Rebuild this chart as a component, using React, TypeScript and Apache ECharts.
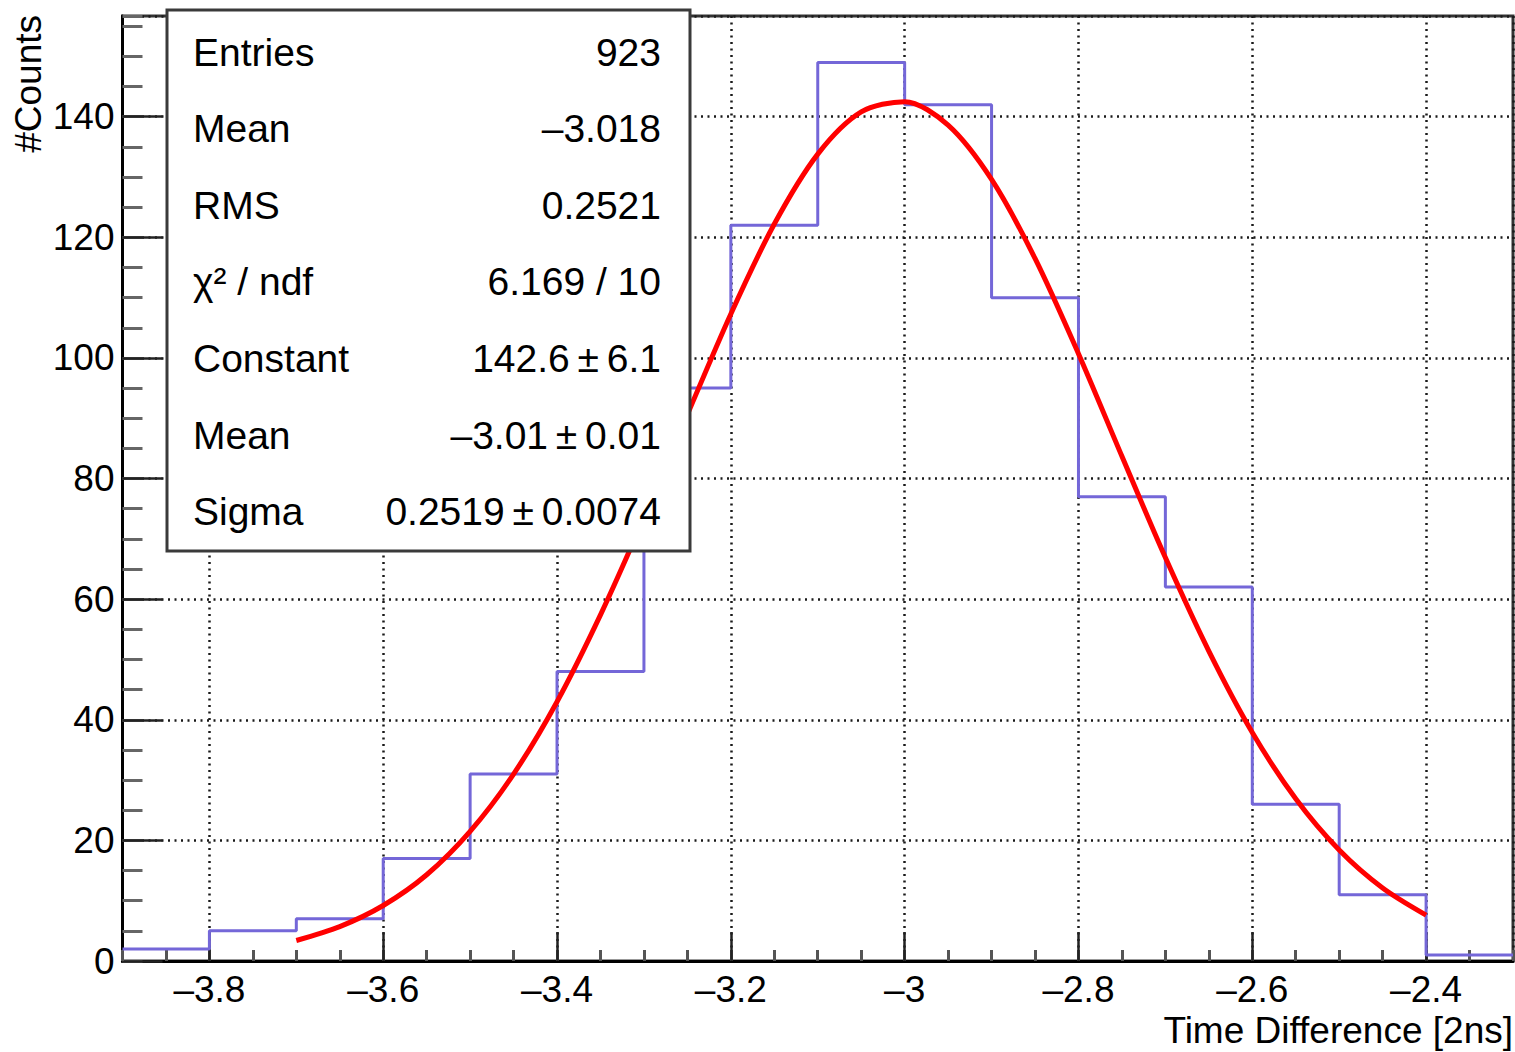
import React, { useEffect, useRef } from "react";
import * as echarts from "echarts";

// Histogram bin edges (x) and counts per bin
const binEdges = [-3.9, -3.8, -3.7, -3.6, -3.5, -3.4, -3.3, -3.2, -3.1, -3.0, -2.9, -2.8, -2.7, -2.6, -2.5, -2.4, -2.3];
const binCounts = [2, 5, 7, 17, 31, 48, 95, 122, 149, 142, 110, 77, 62, 26, 11, 1];

// Fitted Gaussian curve
const fitX = [-3.7, -3.65, -3.6, -3.55, -3.5, -3.45, -3.4, -3.35, -3.3, -3.25, -3.2, -3.15, -3.1, -3.05, -3.0, -2.95, -2.9, -2.85, -2.8, -2.75, -2.7, -2.65, -2.6, -2.55, -2.5, -2.45, -2.4];
const fitY = [3.4, 5.7, 9.2, 14.3, 21.5, 31.0, 43.0, 57.4, 73.5, 90.6, 107.3, 122.2, 133.8, 140.8, 142.5, 138.6, 129.6, 116.5, 100.7, 83.7, 66.9, 51.4, 37.9, 26.9, 18.4, 12.1, 7.6];

// Stats box
const statLabels = ["Entries", "Mean", "RMS", "χ² / ndf", "Constant", "Mean", "Sigma"];
const statValues = ["923", "–3.018", "0.2521", "6.169 / 10", "142.6\u2009±\u20096.1", "–3.01\u2009±\u20090.01", "0.2519\u2009±\u20090.0074"];

const xTitle = "Time Difference [2ns]";
const yTitle = "#Counts";

const X_MIN = -3.9;
const X_MAX = -2.3;
const Y_MIN = 0;
const Y_MAX = 156.7;

const FONT = "Liberation Sans, Arial, Helvetica, sans-serif";

function fmtTick(v: number): string {
  const a = parseFloat(Math.abs(v).toFixed(2)).toString();
  return v < 0 ? "\u2013" + a : a;
}

export default function App() {
  const ref = useRef<HTMLDivElement>(null);

  useEffect(() => {
    if (!ref.current) return;
    const chart = echarts.init(ref.current, null, { renderer: "svg" });

    const histData = binEdges.map((e, i) => [e, binCounts[Math.min(i, binCounts.length - 1)]]);
    const fitData = fitX.map((x, i) => [x, fitY[i]]);

    const statTexts: any[] = [];
    statLabels.forEach((lab, i) => {
      const y = 52 + i * 76.6;
      statTexts.push({
        type: "text",
        x: 193,
        y,
        z: 101,
        style: { text: lab, font: `39px ${FONT}`, fill: "#000", textAlign: "left", textVerticalAlign: "middle" },
      });
      statTexts.push({
        type: "text",
        x: 661,
        y,
        z: 101,
        style: { text: statValues[i], font: `39px ${FONT}`, fill: "#000", textAlign: "right", textVerticalAlign: "middle" },
      });
    });

    const gridLine = { color: "#1a1a1a", width: 2.5, type: [2, 4.5] };

    const option: any = {
      animation: false,
      backgroundColor: "#fff",
      grid: {
        left: 122.5,
        right: 2,
        top: 16,
        bottom: 91,
        show: true,
        borderColor: "#333",
        borderWidth: 3,
        backgroundColor: "transparent",
        containLabel: false,
        outerBoundsMode: "none",
      },
      xAxis: [
        {
          type: "value",
          min: X_MIN,
          max: X_MAX,
          interval: 0.05,
          position: "bottom",
          axisLine: { show: true, onZero: false, lineStyle: { color: "#000", width: 3 } },
          axisTick: { show: true, inside: true, length: 11, lineStyle: { color: "#555", width: 3 } },
          axisLabel: { show: false },
          splitLine: { show: false },
        },
        {
          type: "value",
          min: X_MIN,
          max: X_MAX,
          splitNumber: 8,
          minInterval: 0.2,
          maxInterval: 0.2,
          position: "bottom",
          axisLine: { show: false, onZero: false },
          axisTick: { show: true, inside: true, length: 29, lineStyle: { color: "#222", width: 2.5 } },
          axisLabel: {
            show: true,
            showMinLabel: false,
            showMaxLabel: false,
            margin: 10,
            color: "#000",
            fontSize: 37,
            fontFamily: FONT,
            formatter: (v: number) => fmtTick(v),
          },
          splitLine: { show: true, lineStyle: gridLine },
        },
      ],
      yAxis: [
        {
          type: "value",
          min: Y_MIN,
          max: Y_MAX,
          interval: 5,
          position: "left",
          axisLine: { show: true, onZero: false, lineStyle: { color: "#000", width: 3 } },
          axisTick: { show: true, inside: true, length: 20, lineStyle: { color: "#666", width: 3 } },
          axisLabel: { show: false },
          splitLine: { show: false },
        },
        {
          type: "value",
          min: Y_MIN,
          max: Y_MAX,
          interval: 20,
          position: "left",
          axisLine: { show: false, onZero: false },
          axisTick: { show: true, inside: true, length: 40, lineStyle: { color: "#222", width: 2.5 } },
          axisLabel: {
            show: true,
            showMinLabel: true,
            showMaxLabel: false,
            margin: 8,
            color: "#000",
            fontSize: 37,
            fontFamily: FONT,
            formatter: (v: number) => fmtTick(v),
          },
          splitLine: { show: true, lineStyle: gridLine },
        },
      ],
      series: [
        {
          type: "line",
          name: "hist",
          xAxisIndex: 0,
          yAxisIndex: 0,
          data: histData,
          step: "end",
          symbol: "none",
          lineStyle: { color: "#7467d8", width: 3 },
          z: 3,
        },
        {
          type: "line",
          name: "fit",
          xAxisIndex: 0,
          yAxisIndex: 0,
          data: fitData,
          smooth: 0.3,
          symbol: "none",
          lineStyle: { color: "#ff0000", width: 5 },
          z: 4,
        },
      ],
      graphic: [
        {
          type: "rect",
          z: 100,
          shape: { x: 167, y: 10, width: 523, height: 541 },
          style: { fill: "#fff", stroke: "#3a3a3a", lineWidth: 3 },
        },
        ...statTexts,
        {
          type: "text",
          x: 1513,
          y: 1030,
          z: 101,
          style: { text: xTitle, font: `37px ${FONT}`, fill: "#000", textAlign: "right", textVerticalAlign: "middle" },
        },
        {
          type: "text",
          x: 28,
          y: 15,
          rotation: Math.PI / 2,
          z: 101,
          style: { text: yTitle, font: `37px ${FONT}`, fill: "#000", textAlign: "right", textVerticalAlign: "middle" },
        },
      ],
    };

    chart.setOption(option);
    return () => {
      chart.dispose();
    };
  }, []);

  return (
    <div
      ref={ref}
      style={{ position: "fixed", left: 0, top: 0, width: 1515, height: 1052, background: "#fff" }}
    />
  );
}
